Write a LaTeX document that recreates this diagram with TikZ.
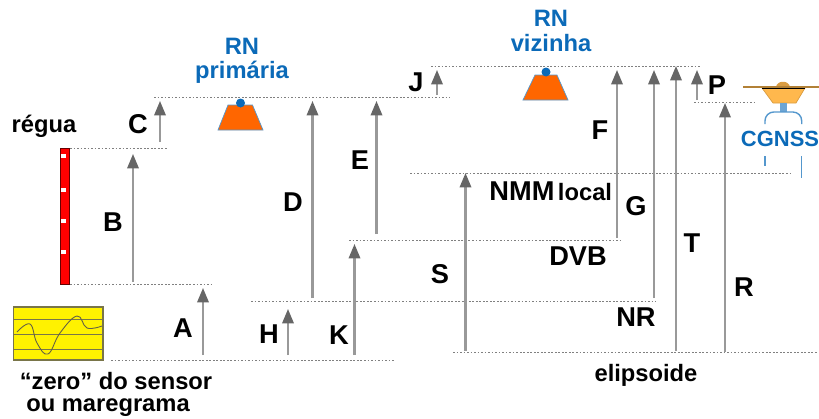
\documentclass[tikz,border=0pt]{standalone}
\usepackage{fontspec}
\setmainfont{Liberation Sans}
\usepackage{tikz}
\usetikzlibrary{arrows.meta, calc}
\definecolor{rnblue}{HTML}{0B6AB8}
\definecolor{rnorange}{HTML}{FF6600}
\definecolor{tipgray}{HTML}{666666}
\definecolor{shaftgray}{HTML}{999999}
\definecolor{antennatan}{HTML}{FFB84D}
\tikzset{
    level/.style={draw=black!50,dash pattern=on 1pt off 1pt,line width=0.4pt},
    height/.style={draw=shaftgray,line width=1.2pt,-{Triangle[color=tipgray,length=2.9mm,width=2.3mm]}},
    bigtext/.style={font=\fontsize{13.5}{14}\selectfont\bfseries,inner sep=0pt,align=center},
    captext/.style={font=\fontsize{15.5}{16}\selectfont\bfseries,inner sep=0pt},
    bluetext/.style={bigtext,text=rnblue},
    station/.style={draw=rnblue!70,fill=rnorange,line width=0.4pt}
}

\begin{document}
\begin{tikzpicture}[x=0.02cm,y=-0.02cm]
    \useasboundingbox (0,0) rectangle (819,419);

    % level lines
    \path (154,97) coordinate (rnpL) (450,97) coordinate (rnpR);
    \path (70,148) coordinate (regtopL) (167,148) coordinate (regtopR);
    \path (70,284.5) coordinate (regbotL) (212,284.5) coordinate (regbotR);
    \path (111,360) coordinate (zeroL) (395,360) coordinate (zeroR);
    \path (251,301) coordinate (nrL) (656,301) coordinate (nrR);
    \path (349,240) coordinate (dvbL) (620,240) coordinate (dvbR);
    \path (410,173) coordinate (nmmL) (790,173) coordinate (nmmR);
    \path (431,66) coordinate (rnvL) (700,66) coordinate (rnvR);
    \path (694,102) coordinate (gnssL) (755,102) coordinate (gnssR);
    \path (453,352) coordinate (elipL) (817,352) coordinate (elipR);
    \begin{scope}[every path/.style={level}]
        \draw (rnpL) -- (rnpR);
        \draw (regtopL) -- (regtopR);
        \draw (regbotL) -- (regbotR);
        \draw (zeroL) -- (zeroR);
        \draw (nrL) -- (nrR);
        \draw (dvbL) -- (dvbR);
        \draw (nmmL) -- (nmmR);
        \draw (rnvL) -- (rnvR);
        \draw (gnssL) -- (gnssR);
        \draw (elipL) -- (elipR);
    \end{scope}

    % height arrows
    \draw [height] (203,355) coordinate (a0) -- (203,288) coordinate (a1);
    \draw [height] (133,282) coordinate (b0) -- (133,154) coordinate (b1);
    \draw [height] (160,142) coordinate (c0) -- (160,101) coordinate (c1);
    \draw [height] (312.5,298) coordinate (d0) -- (312.5,101) coordinate (d1);
    \draw [height] (376.5,234) coordinate (e0) -- (376.5,101) coordinate (e1);
    \draw [height] (288,355) coordinate (h0) -- (288,309) coordinate (h1);
    \draw [height] (354.5,355) coordinate (k0) -- (354.5,244) coordinate (k1);
    \draw [height] (437,95) coordinate (j0) -- (437,70) coordinate (j1);
    \draw [height] (465.5,351) coordinate (s0) -- (465.5,173) coordinate (s1);
    \draw [height] (617,238) coordinate (f0) -- (617,70) coordinate (f1);
    \draw [height] (654,298) coordinate (g0) -- (654,70) coordinate (g1);
    \draw [height] (676,351) coordinate (t0) -- (676,66) coordinate (t1);
    \draw [height] (697,100) coordinate (p0) -- (697,70) coordinate (p1);
    \draw [height] (725,352) coordinate (r0) -- (725,103) coordinate (r1);

    % arrow labels
    \begin{scope}[every node/.style={captext}]
        \node (A) at (183,328) {A};
        \node (B) at (113,222) {B};
        \node (C) at (138,124) {C};
        \node (D) at (293,202) {D};
        \node (E) at (360,160) {E};
        \node (F) at (600,130) {F};
        \node (G) at (636,206) {G};
        \node (H) at (269,334) {H};
        \node (K) at (339,335) {K};
        \node (J) at (416,82) {J};
        \node (P) at (717,85) {P};
        \node (S) at (440,274) {S};
        \node (T) at (692,243) {T};
        \node (R) at (744,287) {R};
        \node (NR) at (636,317) {NR};
        \node (DVB) at (578,256) {DVB};
        \node (NMM) at (522,191) {NMM};
    \end{scope}
    \begin{scope}[every node/.style={bigtext}]
        \node (local) at (585,192) {local};
        \node (elipsoide) at (646,375) {elipsoide};
        \node (regua) at (44,126) {régua};
        \node (zero) at (116,381) {“zero” do sensor};
        \node (maregrama) at (108,408) {ou maregrama};
    \end{scope}

    % ruler
    \draw [draw=black!60!red,fill=red,line width=0.4pt] (60,148) rectangle (69,284);
    \fill [white] (60.5,154) rectangle (66,158);
    \fill [white] (60.5,188) rectangle (66,192);
    \fill [white] (60.5,219) rectangle (66,223);
    \fill [white] (60.5,250) rectangle (66,254);

    % tide record
    \draw [draw=black!60!yellow,fill=yellow,line width=0.6pt] (13.5,307) rectangle (103,360);
    \draw [draw=black!60!yellow,line width=0.5pt] (13.5,319) -- (103,319);
    \draw [draw=black!60!yellow,line width=0.5pt] (13.5,334.5) -- (103,334.5);
    \draw [draw=black!60!yellow,line width=0.5pt] (13.5,349.5) -- (103,349.5);
    \draw [draw=black!70!yellow,line width=0.5pt] plot [smooth,tension=0.7] coordinates
        {(17,332) (30,324) (37,343) (48,354) (60,333) (77,316) (87,328) (102,326)};

    % benchmarks
    \draw [station] (228,105) -- (252.5,105) -- (263,130) -- (218,130) -- cycle;
    \fill [rnblue] (240.5,103) circle (4.5);
    \node [bluetext] (primaria) at (242,61) {RN\\primária};
    \draw [station] (535,75) -- (557,75) -- (568,100) -- (523,100) -- cycle;
    \fill [rnblue] (546,72) circle (4.5);
    \node [bluetext] (vizinha) at (551,31) {RN\\vizinha};

    % antenna
    \fill [antennatan!85!black] (776,87) .. controls (777,80) and (789,80) .. (790,87) -- cycle;
    \draw [draw=antennatan!85!black,fill=antennatan,line width=0.4pt] (762,88) -- (805,88) -- (796,103) -- (773,103) -- cycle;
    \draw [draw=antennatan!70!black,line width=1.3pt] (743,87) -- (819,87);
    \draw [draw=black,line width=0.5pt] (762,88) -- (805,88);
    \fill [rnblue!60] (780,103) rectangle (787,112);
    \draw [draw=rnblue!70,line width=0.8pt,rounded corners=5] (765,124) -- (765,112) -- (801.7,112) -- (801.7,124);
    \draw [draw=rnblue!70,line width=0.8pt] (765,156) -- (765,166);
    \draw [draw=rnblue!70,line width=0.8pt] (801.7,156) -- (801.7,178);
    \node [bluetext,font=\fontsize{12.5}{14}\selectfont\bfseries] (CGNSS) at (780,139) {CGNSS};
\end{tikzpicture}
\end{document}
